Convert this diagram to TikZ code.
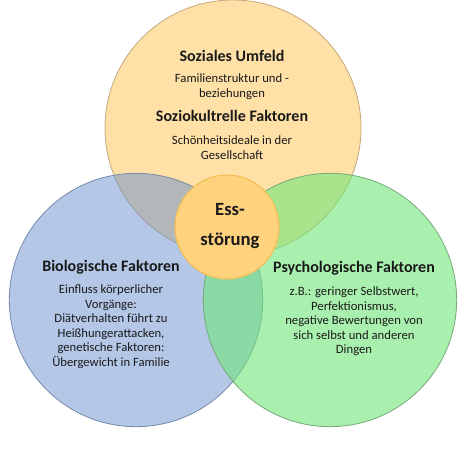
\documentclass[tikz,border=0pt]{standalone}
\usepackage{fontspec}
\setmainfont{Carlito}
\definecolor{sozfill}{RGB}{255,224,166}
\definecolor{sozline}{RGB}{196,168,122}
\definecolor{biofill}{RGB}{105,143,207}
\definecolor{bioline}{RGB}{118,138,168}
\definecolor{psyfill}{RGB}{112,230,122}
\definecolor{psyline}{RGB}{118,168,120}
\definecolor{essfill}{RGB}{255,210,125}
\definecolor{essline}{RGB}{244,190,82}
\definecolor{txt}{RGB}{26,26,26}
\tikzset{
  bubble/.style={circle, draw, line width=0.6pt, minimum size=192pt, inner sep=0pt},
  head/.style={anchor=center, align=center, text=txt, font=\fontsize{12}{14}\selectfont\bfseries},
  body/.style={anchor=north, align=center, text=txt, font=\fontsize{9.5}{10.9}\selectfont}
}
\begin{document}
\begin{tikzpicture}[x=0.75pt, y=-0.75pt]
\useasboundingbox (0,0) rectangle (474,456);

% the three big circles
\node[bubble, fill=sozfill, draw=sozline] (sozial) at (233,128) {};
\node[bubble, fill=biofill, fill opacity=0.5, draw=bioline, minimum size=190pt] (bio) at (136,300) {};
\node[bubble, fill=psyfill, fill opacity=0.6, draw=psyline, minimum size=190pt] (psycho) at (330,300) {};

% the circle in the middle
\node[circle, fill=essfill, draw=essline, line width=0.8pt, minimum size=78pt, inner sep=0pt] (ess) at (227,227) {};
\node[anchor=center, text=txt, font=\fontsize{14}{16}\selectfont\bfseries] (esstop) at (230,210) {Ess-};
\node[anchor=center, text=txt, font=\fontsize{14}{16}\selectfont\bfseries] (essbottom) at (230,241) {störung};

% Soziales Umfeld
\node[head] (sozhead) at (232,56) {Soziales Umfeld};
\node[body] (sozbody) at (232,69) {Familienstruktur und -\\beziehungen};
\node[head] (kulthead) at (232,116) {Soziokultrelle Faktoren};
\node[body] (kultbody) at (232,131) {Schönheitsideale in der\\Gesellschaft};

% Biologische Faktoren
\node[head] (biohead) at (111,267) {Biologische Faktoren};
\node[body] (biobody) at (111,280) {Einfluss körperlicher\\Vorgänge:\\Diätverhalten führt zu\\Heißhungerattacken,\\genetische Faktoren:\\Übergewicht in Familie};

% Psychologische Faktoren
\node[head] (psyhead) at (354,268) {Psychologische Faktoren};
\node[body] (psybody) at (354,282) {z.B.: geringer Selbstwert,\\Perfektionismus,\\negative Bewertungen von\\sich selbst und anderen\\Dingen};
\end{tikzpicture}
\end{document}
